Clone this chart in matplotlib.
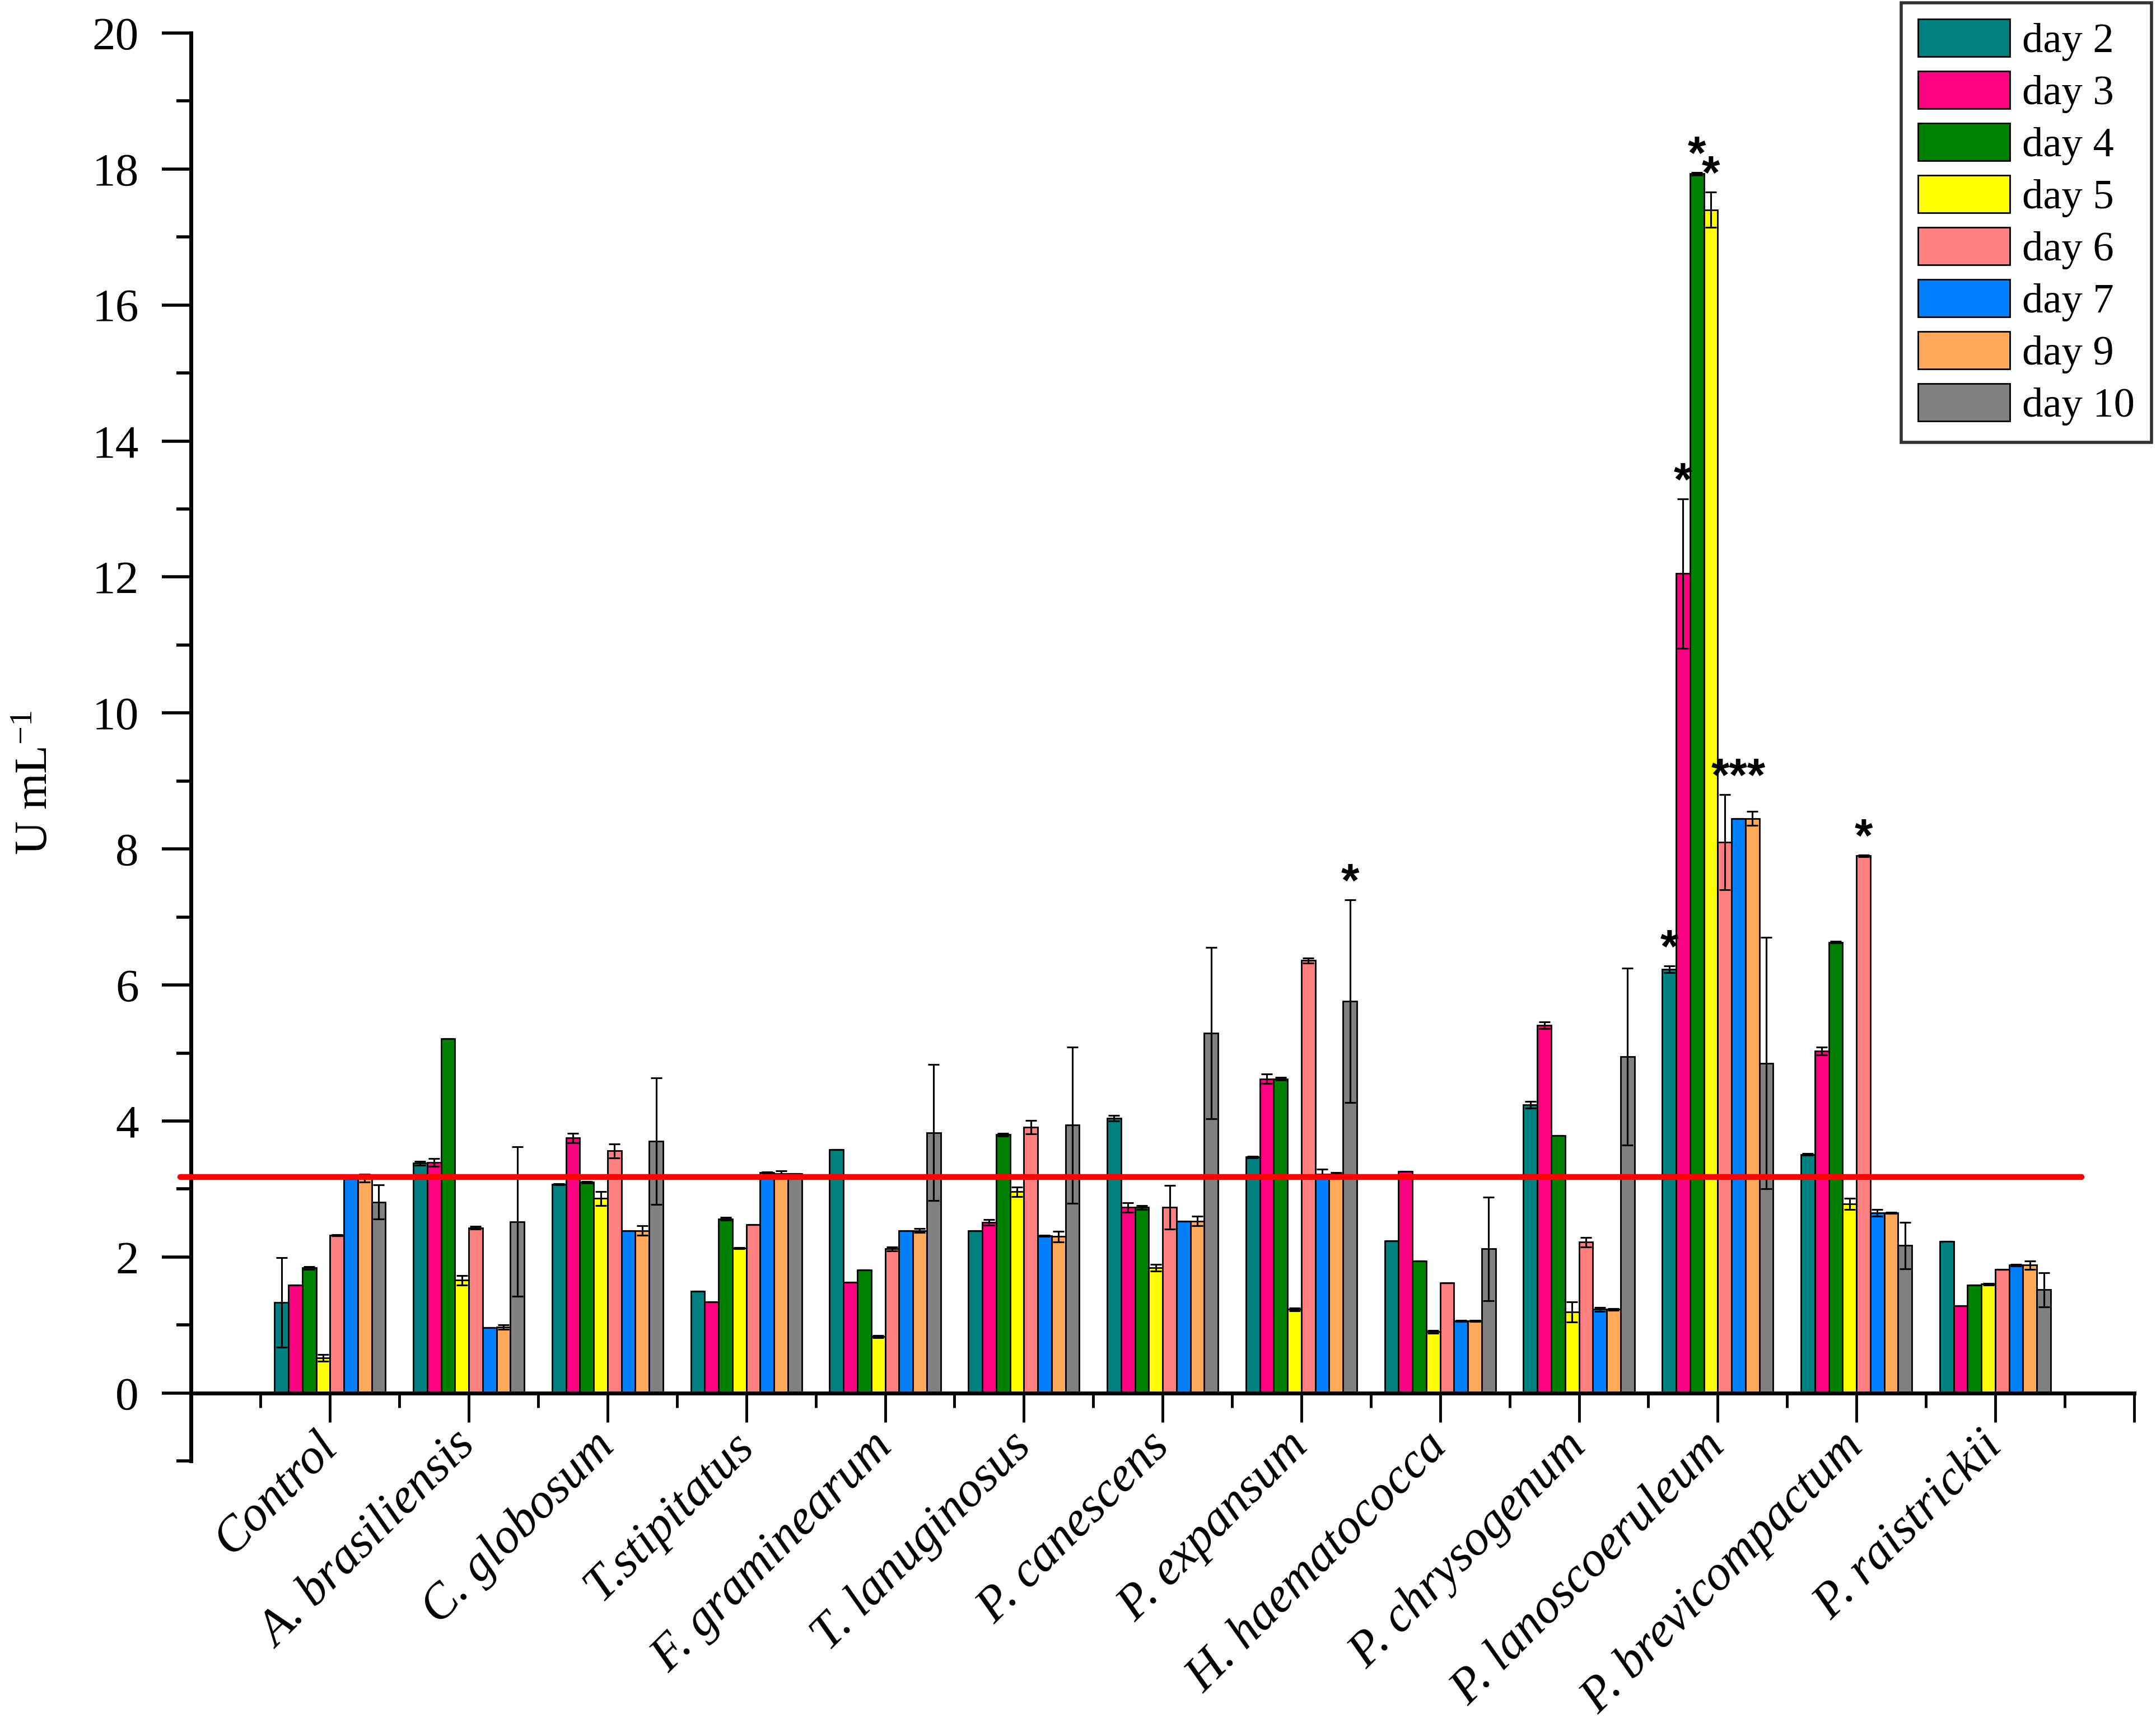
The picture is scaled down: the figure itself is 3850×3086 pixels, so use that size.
import numpy as np
import matplotlib.pyplot as plt
from matplotlib.ticker import FixedLocator
from matplotlib.patches import Rectangle
from matplotlib.legend_handler import HandlerPatch

plt.rcParams['font.family'] = ['Liberation Serif', 'DejaVu Serif']
plt.rcParams['mathtext.default'] = 'regular'

# strains (x categories)
groups = ['Control', 'A. brasiliensis', 'C. globosum', 'T.stipitatus', 'F. graminearum',
          'T. lanuginosus', 'P. canescens', 'P. expansum', 'H. haematococca',
          'P. chrysogenum', 'P. lanoscoeruleum', 'P. brevicompactum', 'P. raistrickii']

day_labels = ['day 2', 'day 3', 'day 4', 'day 5', 'day 6', 'day 7', 'day 9', 'day 10']

# activity, U mL-1
day2 = [1.33, 3.38, 3.07, 1.50, 3.58, 2.39, 4.04, 3.47, 2.24, 4.24, 6.23, 3.51, 2.23]
day3 = [1.59, 3.39, 3.75, 1.34, 1.63, 2.51, 2.73, 4.62, 3.26, 5.41, 12.05, 5.03, 1.28]
day4 = [1.84, 5.21, 3.10, 2.56, 1.81, 3.80, 2.73, 4.62, 1.94, 3.79, 17.93, 6.63, 1.59]
day5 = [0.52, 1.66, 2.86, 2.13, 0.83, 2.96, 1.84, 1.23, 0.90, 1.19, 17.40, 2.78, 1.60]
day6 = [2.32, 2.43, 3.56, 2.48, 2.12, 3.91, 2.73, 6.36, 1.62, 2.22, 8.10, 7.90, 1.82]
day7 = [3.15, 0.96, 2.39, 3.24, 2.39, 2.31, 2.53, 3.22, 1.06, 1.23, 8.45, 2.65, 1.88]
day9 = [3.16, 0.97, 2.39, 3.23, 2.39, 2.30, 2.53, 3.22, 1.06, 1.23, 8.45, 2.65, 1.88]
day10 = [2.81, 2.52, 3.70, 3.23, 3.83, 3.94, 5.29, 5.76, 2.12, 4.95, 4.85, 2.17, 1.52]

# standard deviations
err2 = [0.66, 0.03, 0.01, 0.0, 0.0, 0.0, 0.04, 0.01, 0.0, 0.05, 0.05, 0.01, 0.0]
err3 = [0.0, 0.06, 0.07, 0.0, 0.0, 0.04, 0.07, 0.07, 0.0, 0.05, 1.10, 0.06, 0.0]
err4 = [0.02, 0.0, 0.01, 0.02, 0.0, 0.02, 0.03, 0.02, 0.0, 0.0, 0.02, 0.01, 0.0]
err5 = [0.05, 0.07, 0.10, 0.01, 0.02, 0.07, 0.05, 0.02, 0.02, 0.15, 0.26, 0.08, 0.01]
err6 = [0.01, 0.02, 0.10, 0.0, 0.03, 0.10, 0.32, 0.04, 0.0, 0.07, 0.70, 0.01, 0.0]
err7 = [0.0, 0.0, 0.0, 0.01, 0.0, 0.01, 0.0, 0.07, 0.01, 0.03, 0.0, 0.05, 0.01]
err9 = [0.06, 0.03, 0.07, 0.04, 0.03, 0.08, 0.07, 0.02, 0.01, 0.01, 0.10, 0.01, 0.06]
err10 = [0.25, 1.10, 0.93, 0.0, 1.00, 1.15, 1.26, 1.49, 0.76, 1.30, 1.85, 0.34, 0.25]

# control level (red line)
threshold = 3.18

# significance marks: (strain index, days marked with one star each)
star_marks = [(7, [7]), (10, [0]), (10, [1]), (10, [2]), (10, [3]), (10, [4, 5, 6]), (11, [4])]

colors = ['#008080', '#FF0080', '#008000', '#FFFF00', '#FF8080', '#0080FF', '#FFAA5A', '#808080']

series = [day2, day3, day4, day5, day6, day7, day9, day10]
errors = [err2, err3, err4, err5, err6, err7, err9, err10]


def tall_patch(legend, orig_handle, xdescent, ydescent, width, height, fontsize):
    # legend swatches a bit taller than the default box, as in Origin
    h = 1.18 * fontsize
    return Rectangle((-xdescent, -ydescent + height / 2 - h / 2), width, h)


fig = plt.figure(figsize=(15.4, 12.344), dpi=250)
ax = fig.add_axes([0.0887, 0.1545, 0.9898 - 0.0887, 0.9809 - 0.1545])

x = np.arange(len(groups))
width = 0.1
for i, (lab, vals, errs, col) in enumerate(zip(day_labels, series, errors, colors)):
    pos = x + (i - 3.5) * width
    ax.bar(pos, vals, width, color=col, edgecolor='black', linewidth=0.8, label=lab, zorder=2)
    ax.errorbar(pos, vals, yerr=errs, fmt='none', ecolor='black', elinewidth=0.9,
                capsize=3, capthick=0.9, zorder=3)

ax.plot([-1.08, 12.62], [threshold, threshold], color='#FF0000', lw=3.0,
        solid_capstyle='round', clip_on=False, zorder=4)

for g, days in star_marks:
    tops = [series[d][g] + errors[d][g] for d in days]
    xs = [g + (d - 3.5) * width for d in days]
    ax.text(np.mean(xs), max(tops) + 0.05, '*' * len(days), ha='center', va='baseline',
            fontsize=24, family='Liberation Sans', fontweight='bold', zorder=5)

ax.set_xlim(-1, 13)
ax.set_ylim(-1, 20)

for s in ['top', 'right']:
    ax.spines[s].set_visible(False)
ax.spines['bottom'].set_position(('data', 0))
ax.spines['bottom'].set_linewidth(2)
ax.spines['left'].set_linewidth(2)

ax.xaxis.set_major_locator(FixedLocator(np.arange(0, 14)))
ax.xaxis.set_minor_locator(FixedLocator(np.arange(-0.5, 13, 1)))
ax.set_xticklabels(groups + [''], rotation=45, ha='right', va='center',
                   rotation_mode='anchor', fontsize=25.5, style='italic')
ax.tick_params(axis='x', which='major', length=15, width=1.4, pad=9)
ax.tick_params(axis='x', which='minor', length=7.5, width=1.4)

ax.yaxis.set_major_locator(FixedLocator(np.arange(0, 21, 2)))
ax.yaxis.set_minor_locator(FixedLocator(np.arange(-1, 20, 2)))
ax.tick_params(axis='y', which='major', length=15, width=1.6, pad=12, labelsize=24)
ax.tick_params(axis='y', which='minor', length=7.5, width=1.6)

ax.set_ylabel('U mL$^{-1}$', fontsize=24)
ax.yaxis.set_label_coords(-0.069, 0.475)

handles, labels = ax.get_legend_handles_labels()
leg = ax.legend(handles, labels, loc='upper right', bbox_to_anchor=(0.998, 0.9985),
                bbox_transform=fig.transFigure,
                handler_map={Rectangle: HandlerPatch(patch_func=tall_patch)},
                fontsize=21.5, frameon=True, fancybox=False, edgecolor='black',
                handlelength=2.2, handleheight=1.0, labelspacing=0.24, handletextpad=0.3,
                borderpad=0.4, borderaxespad=0)
leg.get_frame().set_linewidth(1.6)

fig.savefig('out.png', dpi=250)
